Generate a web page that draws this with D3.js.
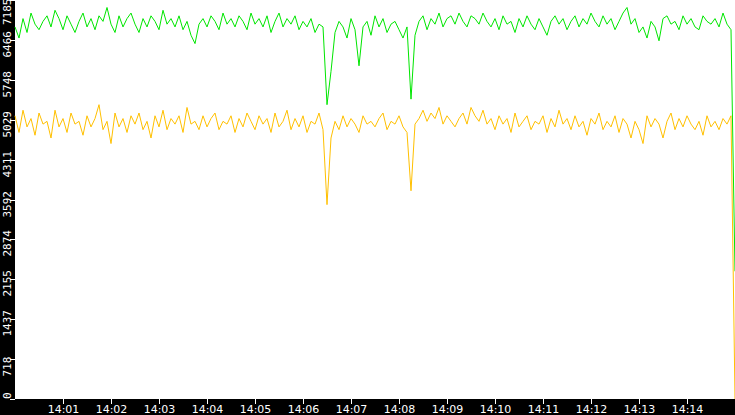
<!DOCTYPE html>
<html><head><meta charset="utf-8">
<script src="https://cdn.jsdelivr.net/npm/d3@7"></script>
<style>html,body{margin:0;padding:0;background:#000;}svg{display:block;}</style>
</head><body><svg id="c" width="735" height="415"></svg>
<script>
const stepSeconds = 5;
const greenValues = [
6700,6500,6850,6600,6950,6750,6650,6800,6900,6700,
7000,6850,6650,6900,6750,6600,6800,6950,6700,6850,
6650,6900,6800,7050,6750,6600,6900,6700,6850,6950,
6750,6600,6850,6700,6900,6800,6650,7000,6750,6850,
6700,6900,6650,6800,6550,6400,6750,6850,6700,6900,
6800,6650,6950,6750,6850,6700,6900,6800,6650,6950,
6750,6850,6700,6900,6600,6800,6950,6700,6850,6750,
6900,6650,6800,6700,6850,6600,6750,6700,5300,5900,
6600,6800,6700,6500,6850,6650,6000,6700,6800,6550,
6900,6700,6850,6600,6750,6800,6650,6500,6700,5400,
6550,6800,6900,6650,6850,6750,6950,6700,6850,6900,
6750,6950,6800,6700,6900,6850,6750,6950,6800,6700,
6850,6650,6900,6750,6800,6600,6850,6700,6900,6750,
6650,6850,6700,6550,6800,6900,6750,6850,6650,6800,
6900,6700,6850,6750,6950,6800,6700,6900,6750,6850,
6650,6800,6950,7050,6750,6850,6600,6700,6500,6800,
6700,6450,6850,6900,6750,6800,6650,6900,6750,6850,
6700,6650,6900,6800,6750,6850,6700,6950,6750,6650,
2300];
const yellowValues = [
5100,4800,5200,4900,5050,4750,5150,4950,5000,4700,
5200,4900,5050,4800,5150,4950,5000,4750,5100,4900,
5050,5300,4850,5000,4600,5150,4900,5050,4800,5100,
4950,5150,4850,5000,4700,5100,4900,5200,4850,5050,
4950,5100,4800,5250,4950,5000,4850,5100,4900,5050,
5150,4850,5000,4950,5100,4800,5050,4900,5150,5000,
4850,5100,4950,5050,4800,5150,4900,5000,5200,4850,
5050,4900,5100,4800,5000,4950,5150,4850,3500,4700,
5000,4850,5100,4900,5050,4950,4800,5100,4950,5000,
4900,5050,5150,4850,5000,4950,5100,4900,4800,3750,
4950,5050,5200,5000,5150,5050,5250,4950,5100,5000,
4900,5050,5150,4950,5250,5100,5000,5200,4950,5050,
4850,5100,4950,5050,4800,5150,4900,5000,5100,4850,
5000,4950,5100,4800,5050,4900,5200,4950,5050,4850,
5100,4900,5000,4750,5050,4950,5150,4850,5000,4900,
5100,4800,5050,4950,4700,5000,4850,4600,5100,4900,
5050,4950,4700,5000,5150,4850,5050,4900,5100,4950,
4850,5000,4750,5100,4900,5000,4850,5050,4950,5100,
0];
const yTicks = [0,718,1437,2155,2874,3592,4311,5029,5748,6466,7185];
const xTickLabels = ["14:01","14:02","14:03","14:04","14:05","14:06","14:07","14:08","14:09","14:10","14:11","14:12","14:13","14:14"];

const svg = d3.select("#c");
const L = 15, R = 735, T = 0, B = 399;
const t0 = new Date(2020,0,1,14,0,0);
const x = d3.scaleTime().domain([t0, new Date(2020,0,1,14,15,0)]).range([L,R]);
const y = d3.scaleLinear().domain([0,7185]).range([B,T]);

svg.append("rect").attr("x",L).attr("y",T).attr("width",R-L).attr("height",B-T).attr("fill","#fff");

const line = d3.line().x((d,i)=>x(new Date(t0.getTime()+i*stepSeconds*1000))).y(d=>y(d));
svg.append("path").datum(yellowValues).attr("d",line).attr("fill","none").attr("stroke","#ffc000").attr("stroke-width",1);
svg.append("path").datum(greenValues).attr("d",line).attr("fill","none").attr("stroke","#00e600").attr("stroke-width",1);

const font = "'DejaVu Sans Mono', monospace";
yTicks.forEach(v=>{
  const yy = Math.round(y(v))+0.5;
  svg.append("line").attr("x1",10).attr("x2",L).attr("y1",yy).attr("y2",yy).attr("stroke","#fff");
  const base = v===0 ? 399 : (v===7185 ? 25 : yy+17);
  svg.append("text").attr("transform",`translate(11,${base}) rotate(-90)`)
    .attr("text-anchor","start").attr("fill","#fff")
    .attr("font-family",font).attr("font-size",11).text(v);
});
xTickLabels.forEach(s=>{
  const [h,m] = s.split(":").map(Number);
  const xx = Math.round(x(new Date(2020,0,1,h,m,0)))+0.5;
  svg.append("line").attr("x1",xx).attr("x2",xx).attr("y1",B).attr("y2",B+5).attr("stroke","#fff");
  svg.append("text").attr("x",xx).attr("y",413).attr("text-anchor","middle").attr("fill","#fff")
    .attr("font-family","'DejaVu Sans', sans-serif").attr("font-size",11).text(s);
});
</script></body></html>
